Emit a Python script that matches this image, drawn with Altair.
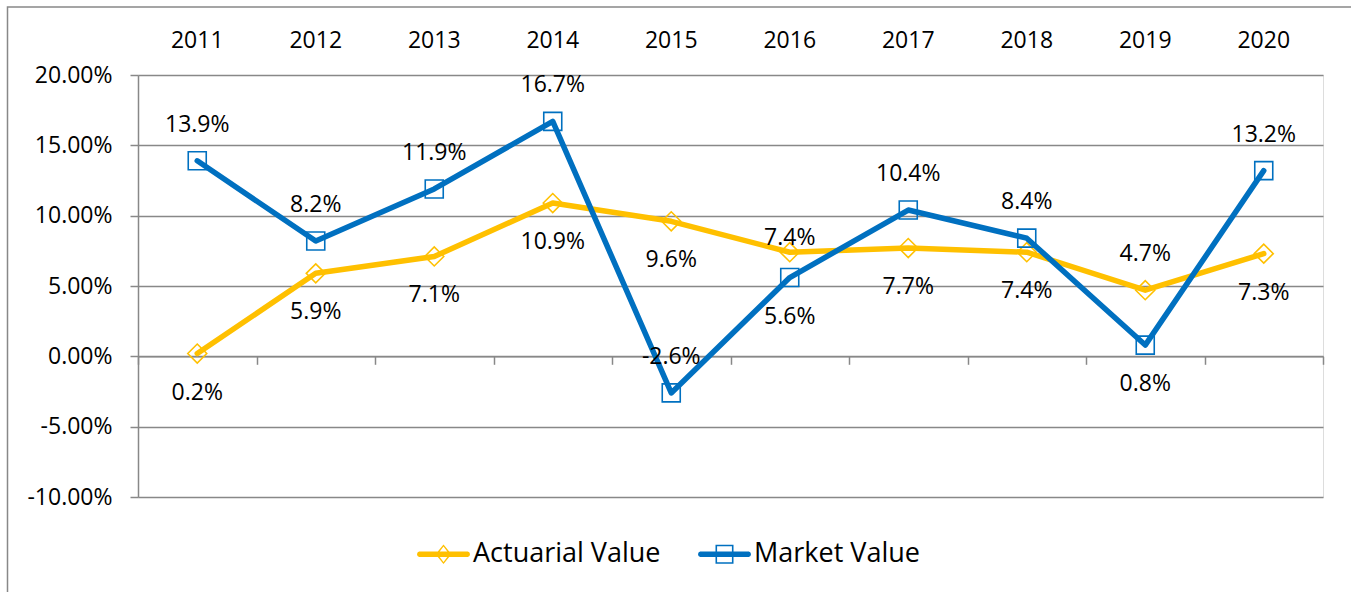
import altair as alt
import pandas as pd

# ---- data ----
years = ["2011", "2012", "2013", "2014", "2015", "2016", "2017", "2018", "2019", "2020"]
actuarial = [0.2, 5.9, 7.1, 10.9, 9.6, 7.4, 7.7, 7.4, 4.7, 7.3]
market = [13.9, 8.2, 11.9, 16.7, -2.6, 5.6, 10.4, 8.4, 0.8, 13.2]
actuarial_label_pos = ["below", "below", "below", "below", "below", "near", "below", "below", "above", "below"]
market_label_pos = ["above", "above", "above", "above", "above", "below", "above", "above", "below", "above"]
series_names = ["Actuarial Value", "Market Value"]
series_colors = ["#FFC000", "#0070C0"]
y_ticks = [-10, -5, 0, 5, 10, 15, 20]

rows = []
for name, vals, poss in [(series_names[0], actuarial, actuarial_label_pos),
                         (series_names[1], market, market_label_pos)]:
    for yr, v, p in zip(years, vals, poss):
        rows.append({"year": yr, "series": name, "value": v, "pos": p, "label": f"{v:.1f}%"})
df = pd.DataFrame(rows)

GRAY = "#888888"
FONT = "Open Sans"
FS = 23

xscale = alt.Scale(type="band", paddingInner=0, paddingOuter=0, domain=years)

x_top = alt.X("year:N", scale=xscale, axis=alt.Axis(
    orient="top", title=None, domain=False, ticks=False, tickSize=0,
    labelFontSize=FS, labelBaseline="middle", labelPadding=35, labelAngle=0,
    labelColor="black", labelFont=FONT, grid=False))
x_bottom = alt.X("year:N", scale=xscale, axis=alt.Axis(
    orient="bottom", offset=-140.7, title=None, labels=False, domain=True,
    domainColor=GRAY, domainWidth=1.5, ticks=True, tickBand="extent", tickSize=8,
    tickColor=GRAY, tickWidth=1.5, grid=False))
x_none = alt.X("year:N", scale=xscale, axis=None)

yenc = alt.Y("value:Q", scale=alt.Scale(domain=[-10, 20], nice=False, zero=False),
             axis=alt.Axis(title=None, values=y_ticks,
                           labelExpr="(datum.value < 0 ? '-' : '') + format(abs(datum.value), '.2f') + '%'",
                           labelFontSize=FS, labelFont=FONT, labelColor="black", labelPadding=18,
                           tickSize=8, tickColor=GRAY, tickWidth=1.5,
                           domain=True, domainColor=GRAY, domainWidth=1.5,
                           grid=True, gridColor=GRAY, gridWidth=1.5))

base = alt.Chart(df)

border = alt.Chart(alt.Data(values=[{}])).mark_rect(
    fillOpacity=0, stroke=GRAY, strokeWidth=1.5
).encode(x=alt.value(-130.5), x2=alt.value(1300), y=alt.value(-68), y2=alt.value(700))

act = base.transform_filter(alt.datum.series == series_names[0])
mkt = base.transform_filter(alt.datum.series == series_names[1])

LW = 5.5
act_line = act.mark_line(strokeWidth=LW, strokeCap="round", strokeJoin="round",
                         color=series_colors[0]).encode(x=x_top, y=yenc)
act_pts = act.mark_point(shape="diamond", size=361, filled=False, strokeWidth=1.6,
                         color=series_colors[0], opacity=1).encode(x=x_none, y=yenc)
mkt_line = mkt.mark_line(strokeWidth=LW, strokeCap="round", strokeJoin="round",
                         color=series_colors[1]).encode(x=x_none, y=yenc)
mkt_pts = mkt.mark_point(shape="square", size=324, filled=False, strokeWidth=1.6,
                         color=series_colors[1], opacity=1).encode(x=x_none, y=yenc)

text_kw = dict(fontSize=FS, font=FONT, baseline="middle", align="center", color="black")
lab_above = base.transform_filter(alt.datum.pos == "above").mark_text(dy=-36, **text_kw).encode(
    x=x_bottom, y=yenc, text="label:N")
lab_below = base.transform_filter(alt.datum.pos == "below").mark_text(dy=39, **text_kw).encode(
    x=x_none, y=yenc, text="label:N")
lab_near = base.transform_filter(alt.datum.pos == "near").mark_text(dy=-14, **text_kw).encode(
    x=x_none, y=yenc, text="label:N")

# legend symbols: thick line with hollow marker (unit coordinates)
cap = "M-0.92,-0.1 L0.92,-0.1 L0.98,-0.07 L1,0 L0.98,0.07 L0.92,0.1 L-0.92,0.1 L-0.98,0.07 L-1,0 L-0.98,-0.07 Z "
diamond_sym = cap + "M0,-0.37 L0.3,0 L0,0.37 L-0.3,0 Z M0,-0.29 L-0.22,0 L0,0.29 L0.22,0 Z"
square_sym = cap + "M-0.34,-0.36 L0.34,-0.36 L0.34,0.36 L-0.34,0.36 Z M-0.28,-0.30 L-0.28,0.30 L0.28,0.30 L0.28,-0.30 Z"

leg = alt.Legend(title=None, orient="none", legendX=279, legendY=452.5, direction="horizontal",
                 labelFontSize=27, labelFont=FONT, labelColor="black", labelOffset=3, labelLimit=0,
                 symbolSize=2809, symbolStrokeWidth=0, symbolOpacity=1, columnPadding=37, padding=0)
legend_layer = base.mark_point(filled=True, opacity=0).encode(
    x=x_none, y=yenc,
    fill=alt.Fill("series:N", scale=alt.Scale(domain=series_names, range=series_colors), legend=leg),
    shape=alt.Shape("series:N", scale=alt.Scale(domain=series_names, range=[diamond_sym, square_sym]), legend=leg),
)

chart = alt.layer(
    border, act_line, act_pts, mkt_line, mkt_pts, lab_above, lab_below, lab_near, legend_layer
).resolve_axis(x="independent").properties(
    width=1185, height=422,
    autosize=alt.AutoSizeParams(type="none"),
    padding={"left": 138, "top": 75, "right": 28, "bottom": 95},
    background="white",
).configure_view(stroke=None).configure(font=FONT)

chart.save("out.html", embed_options={"renderer": "svg", "actions": False})
